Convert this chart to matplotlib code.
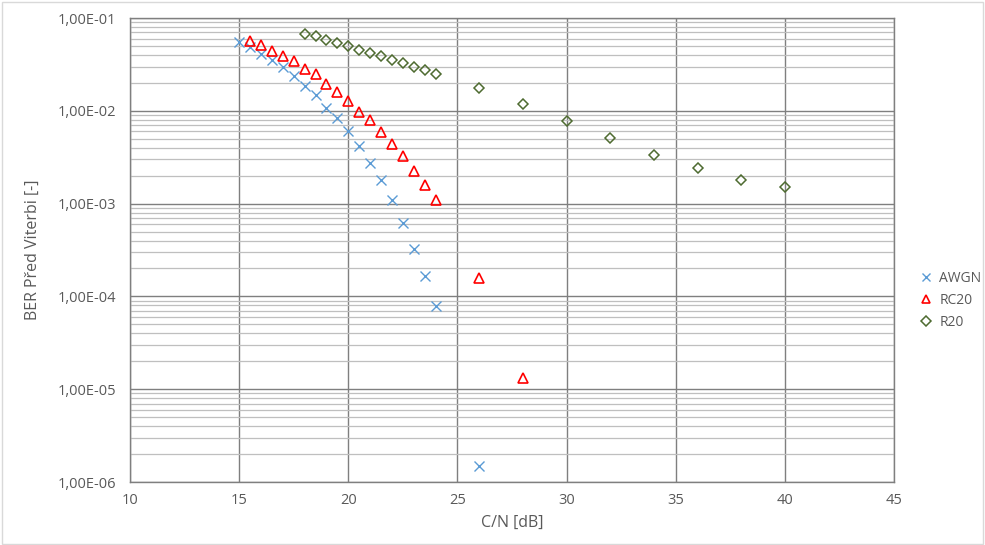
import matplotlib
matplotlib.use("Agg")
import matplotlib.pyplot as plt
from matplotlib.ticker import LogLocator, FixedLocator, NullFormatter
from matplotlib.patches import Rectangle

awgn_x = [15, 15.5, 16, 16.5, 17, 17.5, 18, 18.5, 19, 19.5, 20, 20.5, 21, 21.5, 22,
          22.5, 23, 23.5, 24, 26]
awgn_y = [0.0547, 0.0483, 0.0412, 0.0352, 0.0296, 0.0237, 0.0186, 0.0147, 0.0108,
          0.00836, 0.00605, 0.00414, 0.00276, 0.00178, 0.00109, 6.14e-4, 3.25e-4,
          1.67e-4, 7.94e-5, 1.50e-6]

rc20_x = [15.5, 16, 16.5, 17, 17.5, 18, 18.5, 19, 19.5, 20, 20.5, 21, 21.5, 22, 22.5,
          23, 23.5, 24, 26, 28]
rc20_y = [0.057, 0.0516, 0.0445, 0.0393, 0.0341, 0.0282, 0.0247, 0.0195, 0.0159, 0.0128,
          0.0098, 0.0079, 0.00594, 0.00441, 0.00323, 0.00227, 0.00159, 0.00109,
          1.59e-4, 1.31e-5]

r20_x = [18, 18.5, 19, 19.5, 20, 20.5, 21, 21.5, 22, 22.5, 23, 23.5, 24,
         26, 28, 30, 32, 34, 36, 38, 40]
r20_y = [0.0678, 0.0636, 0.058, 0.0543, 0.0496, 0.0453, 0.0424, 0.0387, 0.0351, 0.0326,
         0.0295, 0.0276, 0.0248, 0.0178, 0.0119, 0.00768, 0.00508, 0.00337, 0.00240,
         0.00180, 0.00150]

x_ticks = [10, 15, 20, 25, 30, 35, 40, 45]
y_ticks = [1e-6, 1e-5, 1e-4, 1e-3, 1e-2, 1e-1]
y_tick_labels = ["1,00E-06", "1,00E-05", "1,00E-04", "1,00E-03", "1,00E-02", "1,00E-01"]

plt.rcParams['font.family'] = ['Open Sans', 'DejaVu Sans']
txt = '#595959'

fig = plt.figure(figsize=(9.85, 5.45), dpi=100)
fig.patches.append(Rectangle((0.002, 0.002), 0.996, 0.995, transform=fig.transFigure,
                             fill=False, edgecolor='#d9d9d9', linewidth=1.0))
ax = fig.add_axes([130/985, 1-482/545, (894-130)/985, (482-18)/545])

ax.set_yscale('log')
ax.set_xlim(10, 45)
ax.set_ylim(1e-6, 1e-1)
ax.xaxis.set_major_locator(FixedLocator(x_ticks))
ax.yaxis.set_major_locator(FixedLocator(y_ticks))
ax.set_yticklabels(y_tick_labels)
ax.yaxis.set_minor_locator(LogLocator(base=10, subs=range(2, 10)))
ax.yaxis.set_minor_formatter(NullFormatter())

ax.grid(True, which='major', axis='both', color='#7f7f7f', linewidth=1.0)
ax.grid(True, which='minor', axis='y', color='#bfbfbf', linewidth=0.9)
ax.set_axisbelow(True)
for s in ax.spines.values():
    s.set_color('#7f7f7f')
    s.set_linewidth(1.0)
ax.tick_params(which='both', length=0, colors=txt, labelsize=10.5, pad=10)
ax.tick_params(axis='x', pad=8)

ax.plot(awgn_x, awgn_y, linestyle='none', marker='x', markersize=6.5, markeredgewidth=1.0,
        color='#5b9bd5', label='AWGN', clip_on=False)
ax.plot(rc20_x, rc20_y, linestyle='none', marker='^', markersize=7.5, markeredgewidth=1.2,
        markerfacecolor='none', markeredgecolor='#ff0000', label='RC20', clip_on=False)
ax.plot(r20_x, r20_y, linestyle='none', marker='D', markersize=5.5, markeredgewidth=1.1,
        markerfacecolor='none', markeredgecolor='#4e6b30', label='R20', clip_on=False)

ax.set_xlabel('C/N [dB]', color=txt, fontsize=11.5, labelpad=5)
ax.set_ylabel('BER Před Viterbi [-]', color=txt, fontsize=11.5, labelpad=12)

leg = ax.legend(loc='center left', bbox_to_anchor=(1.015, 0.392), frameon=False,
                fontsize=10, handletextpad=0.35, labelspacing=0.5, handlelength=1.2,
                markerscale=0.85)
for t in leg.get_texts():
    t.set_color(txt)

fig.savefig('out.png', dpi=100)
